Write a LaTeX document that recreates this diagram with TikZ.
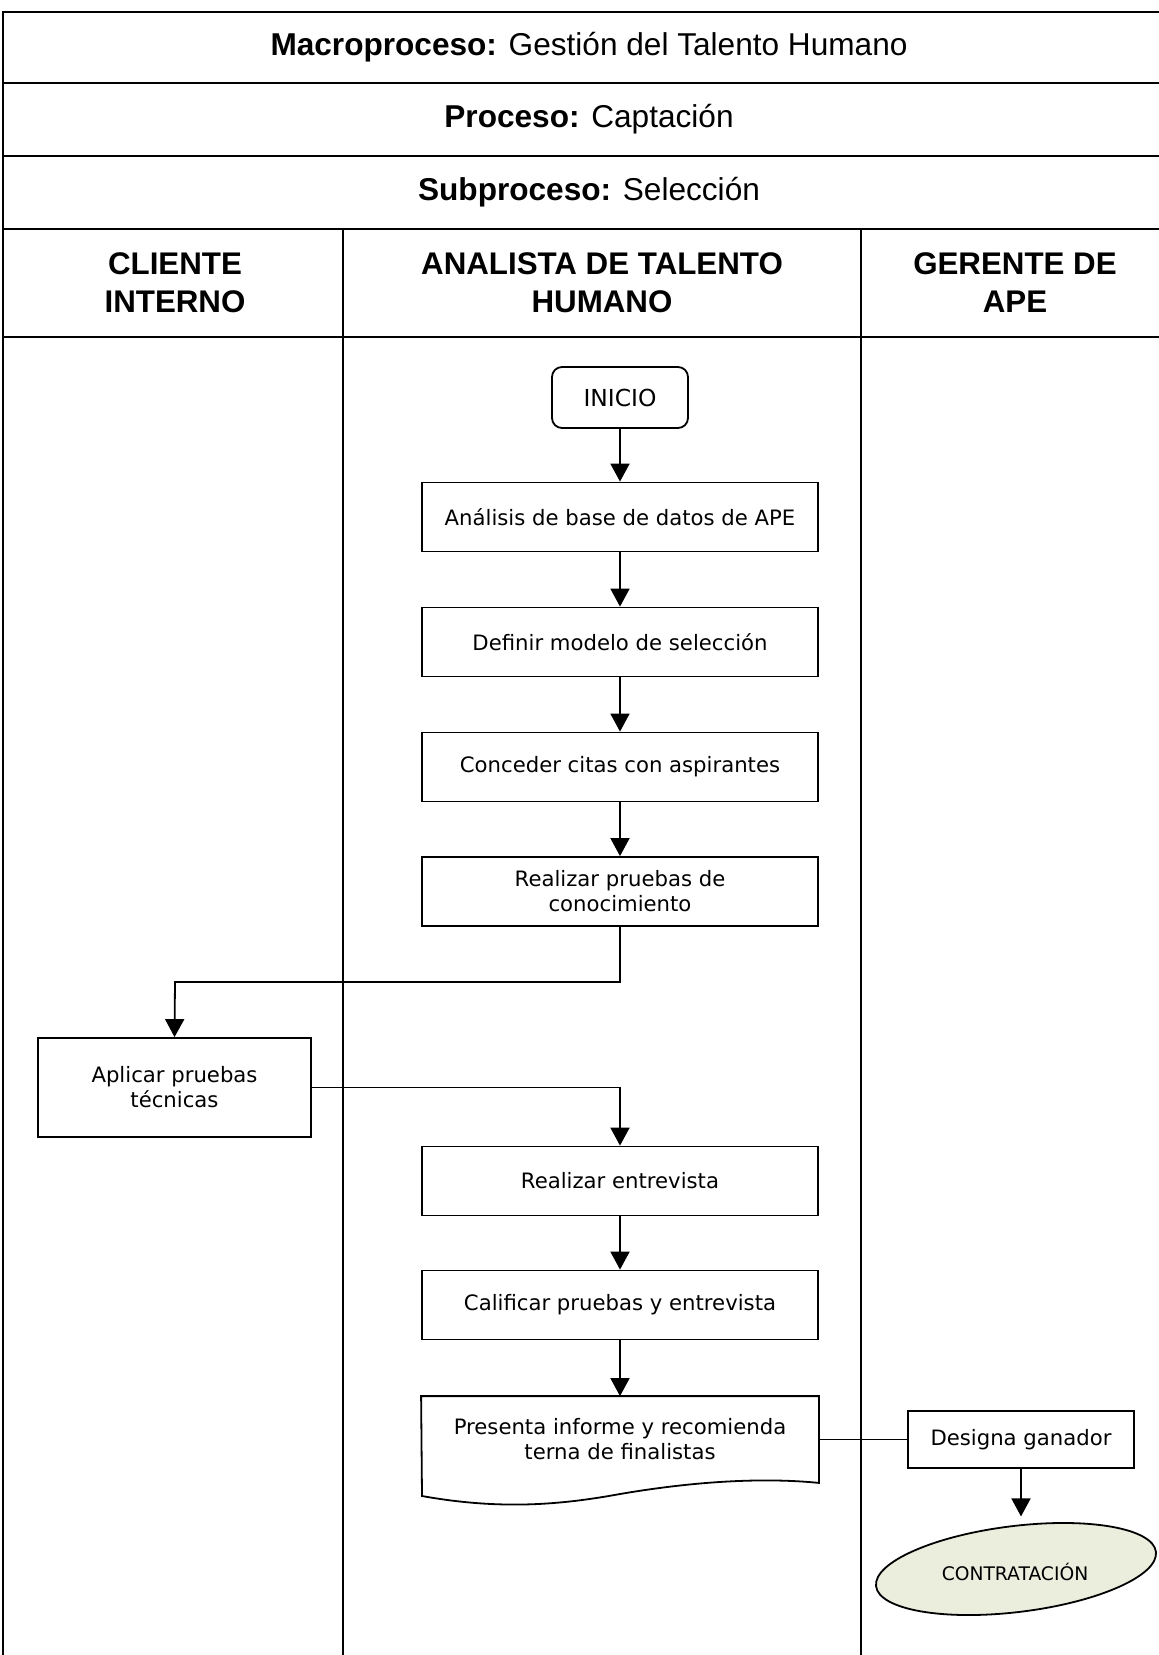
\documentclass[tikz,border=0pt]{standalone}
\usepackage{fontspec}
\setmainfont{DejaVu Sans}
\newfontfamily\hdrfont{Liberation Sans}
\usetikzlibrary{arrows.meta,shapes.geometric}
\definecolor{endfill}{HTML}{EBEEDC}
\begin{document}
\begin{tikzpicture}[x=1pt,y=-1pt,
  frame/.style={line width=2.6pt},
  lane/.style={line width=2pt},
  stepbox/.style={draw,line width=1.8pt,minimum width=396pt,minimum height=69pt,
    align=center,inner sep=0pt,font=\fontsize{21.2}{25}\selectfont},
  startbox/.style={draw,line width=1.8pt,rounded corners=10pt,minimum width=136pt,
    minimum height=61pt,inner sep=0pt,font=\fontsize{23.4}{28}\selectfont},
  flow/.style={line width=1.8pt,-{Triangle[width=19pt,length=18pt]}},
  link/.style={line width=1.8pt},
  title/.style={font=\hdrfont\fontsize{31.6}{38}\selectfont},
  lanehead/.style={font=\hdrfont\bfseries\fontsize{31.3}{38}\selectfont,align=center},
  endshape/.style={draw,line width=1.8pt,fill=endfill,ellipse,minimum width=282pt,
    minimum height=86pt,inner sep=0pt},
  endtext/.style={font=\fontsize{18.7}{22}\selectfont,inner sep=0pt}]
\useasboundingbox (0,0) rectangle (1159,1655);

% table frame and swimlanes
\draw[frame] (3,1655) -- (3,12) -- (1159,12);
\foreach \yy in {83,156,229,337} \draw[frame] (3,\yy) -- (1159,\yy);
\draw[lane] (343,229) -- (343,1655);
\draw[lane] (861,229) -- (861,1655);

% titles
\node[title] (t1) at (589,47.5) {\textbf{Macroproceso:} Gestión del Talento Humano};
\node[title] (t2) at (589,119.5) {\textbf{Proceso:} Captación};
\node[title] (t3) at (589,192.5) {\textbf{Subproceso:} Selección};

% lane headers
\node[lanehead] (h1) at (175,283) {CLIENTE\\INTERNO};
\node[lanehead] (h2) at (602,283) {ANALISTA DE TALENTO\\HUMANO};
\node[lanehead] (h3) at (1015,283) {GERENTE DE\\APE};

% flow steps
\node[startbox] (s0) at (620,397.5) {INICIO};
\node[stepbox] (b1) at (620,517) {Análisis de base de datos de APE};
\node[stepbox] (b2) at (620,642) {Definir modelo de selección};
\node[stepbox] (b3) at (620,767) {Conceder citas con aspirantes};
\node[stepbox] (b4) at (620,891.5) {Realizar pruebas de\\conocimiento};
\node[stepbox,minimum width=273pt,minimum height=99pt] (a5) at (174.5,1087.5) {Aplicar pruebas\\técnicas};
\node[stepbox] (b5) at (620,1181) {Realizar entrevista};
\node[stepbox] (b6) at (620,1305) {Calificar pruebas y entrevista};

% document-shaped report
\node[stepbox,draw=none,minimum height=85pt] (p7) at (620,1439.5) {Presenta informe y recomienda\\terna de finalistas};
\draw[link,line join=miter] (p7.south east) -- (p7.north east) -- (p7.north west) -- (422,1496)
  .. controls (500,1510) and (560,1505) .. (620,1494)
  .. controls (690,1482) and (760,1477) .. (p7.south east) -- cycle;

\node[stepbox,minimum width=226pt,minimum height=57pt] (d8) at (1021,1439.5) {Designa ganador};

% closing terminal
\node[endshape,rotate=7] (e9) at (1016,1569) {};
\node[endtext] (e9t) at (1015,1572) {CONTRATACIÓN};

% connectors
\coordinate (j1) at (175,982);
\draw[flow] (s0) -- (b1);
\draw[flow] (b1) -- (b2);
\draw[flow] (b2) -- (b3);
\draw[flow] (b3) -- (b4);
\draw[flow] (b4.south) |- (j1) -- (a5.north);
\draw[flow] (a5.east) -| (b5.north);
\draw[flow] (b5) -- (b6);
\draw[flow] (b6) -- (p7);
\draw[link] (p7.east) -- (d8.west);
\draw[flow,shorten >=9pt] (d8.south) -- (d8.south |- e9.north);
\end{tikzpicture}
\end{document}
